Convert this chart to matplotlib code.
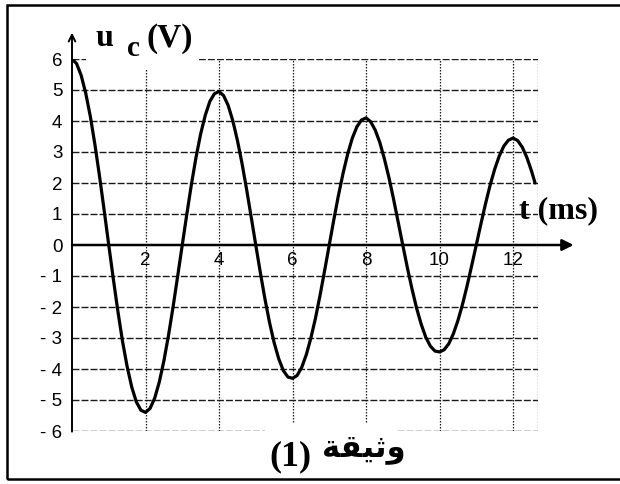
import matplotlib
matplotlib.use("Agg")
import matplotlib.pyplot as plt
from matplotlib.patches import Rectangle

# readings of u_c (V) against t (ms), every 0.125 ms
t_ms = [0.0, 0.125, 0.25, 0.375, 0.5, 0.625, 0.75, 0.875,
        1.0, 1.125, 1.25, 1.375, 1.5, 1.625, 1.75, 1.875,
        2.0, 2.125, 2.25, 2.375, 2.5, 2.625, 2.75, 2.875,
        3.0, 3.125, 3.25, 3.375, 3.5, 3.625, 3.75, 3.875,
        4.0, 4.125, 4.25, 4.375, 4.5, 4.625, 4.75, 4.875,
        5.0, 5.125, 5.25, 5.375, 5.5, 5.625, 5.75, 5.875,
        6.0, 6.125, 6.25, 6.375, 6.5, 6.625, 6.75, 6.875,
        7.0, 7.125, 7.25, 7.375, 7.5, 7.625, 7.75, 7.875,
        8.0, 8.125, 8.25, 8.375, 8.5, 8.625, 8.75, 8.875,
        9.0, 9.125, 9.25, 9.375, 9.5, 9.625, 9.75, 9.875,
        10.0, 10.125, 10.25, 10.375, 10.5, 10.625, 10.75, 10.875,
        11.0, 11.125, 11.25, 11.375, 11.5, 11.625, 11.75, 11.875,
        12.0, 12.125, 12.25, 12.375, 12.5, 12.6]
u_c = [6.00, 5.85, 5.47, 4.89, 4.14, 3.23, 2.21, 1.12,
       0.00, -1.10, -2.15, -3.11, -3.92, -4.58, -5.06, -5.33,
       -5.40, -5.27, -4.94, -4.42, -3.74, -2.92, -2.00, -1.01,
       0.00, 1.00, 1.96, 2.83, 3.58, 4.18, 4.63, 4.88,
       4.95, 4.82, 4.50, 4.01, 3.38, 2.64, 1.80, 0.91,
       0.00, -0.89, -1.74, -2.50, -3.15, -3.67, -4.05, -4.26,
       -4.30, -4.21, -3.95, -3.54, -3.00, -2.36, -1.62, -0.82,
       0.00, 0.82, 1.60, 2.31, 2.93, 3.44, 3.81, 4.03,
       4.10, 3.98, 3.71, 3.31, 2.78, 2.17, 1.48, 0.74,
       0.00, -0.73, -1.41, -2.03, -2.55, -2.97, -3.26, -3.42,
       -3.45, -3.38, -3.19, -2.87, -2.44, -1.92, -1.32, -0.67,
       0.00, 0.67, 1.32, 1.92, 2.44, 2.87, 3.19, 3.38,
       3.45, 3.37, 3.16, 2.83, 2.40, 2.00]

x_ticks = [2, 4, 6, 8, 10, 12]
y_ticks = [-6, -5, -4, -3, -2, -1, 0, 1, 2, 3, 4, 5, 6]
y_labels = ["- 6", "- 5", "- 4", "- 3", "- 2", "- 1", "0", "1", "2", "3", "4", "5", "6"]
grid_right = 12.68

W, H = 620, 484


def fx(px):
    return px / W


def fy(py):
    return 1 - py / H


fig = plt.figure(figsize=(6.2, 4.84), dpi=100)
ax = fig.add_axes([fx(72), fy(431), (538 - 72) / W, (431 - 59) / H])
ax.set_xlim(0, grid_right)
ax.set_ylim(-6, 6)
for s in ax.spines.values():
    s.set_visible(False)

# grid: dashed horizontals, dotted verticals
hl = [v for v in y_ticks if v != 0]
ax.hlines(hl, 0, grid_right, colors="#1a1a1a", linewidth=1.0,
          linestyles=(0, (5, 1.5)), zorder=1)
ax.vlines(x_ticks + [grid_right], -6, 6, colors="#1a1a1a", linewidth=0.9,
          linestyles=(0, (1.2, 1.2)), zorder=1)

ax.plot(t_ms, u_c, color="black", linewidth=2.3, zorder=3,
        solid_joinstyle="round", solid_capstyle="round")

# axes with arrows
ax.annotate("", xy=(0, 6.85), xytext=(0, -6.02),
            arrowprops=dict(arrowstyle="->", lw=1.4, color="black",
                            shrinkA=0, shrinkB=0, mutation_scale=12),
            annotation_clip=False, zorder=4)
ax.annotate("", xy=(13.65, 0), xytext=(0, 0),
            arrowprops=dict(arrowstyle="-|>", lw=1.8, color="black",
                            shrinkA=0, shrinkB=0, mutation_scale=17),
            annotation_clip=False, zorder=4)

ax.set_xticks(x_ticks)
ax.set_xticklabels([str(v) for v in x_ticks])
ax.set_yticks(y_ticks)
ax.set_yticklabels(y_labels)
ax.spines["bottom"].set_position(("data", 0))
ax.tick_params(axis="both", length=0, labelsize=13.5)
ax.tick_params(axis="x", pad=5)
ax.tick_params(axis="y", pad=7)
for lab in ax.get_xticklabels() + ax.get_yticklabels():
    lab.set_fontfamily("Liberation Sans")

# axis titles
serif = "Liberation Serif"
fig.patches.append(Rectangle((fx(86), fy(70)), (199 - 86) / W, (70 - 22) / H,
                             transform=fig.transFigure, facecolor="white",
                             edgecolor="none", zorder=2))
fig.text(fx(95), fy(46), "u", family=serif, weight="bold", fontsize=23,
         va="baseline", ha="left", zorder=5)
fig.text(fx(127), fy(56), "c", family=serif, weight="bold", fontsize=21,
         va="baseline", ha="left", zorder=5)
fig.text(fx(146), fy(47), "(V)", family=serif, weight="bold", fontsize=24,
         va="baseline", ha="left", zorder=5)
fig.text(fx(519), fy(218), "t (ms)", family=serif, weight="bold", fontsize=23,
         va="baseline", ha="left", zorder=5)

# caption "وثيقة (1)" - the Arabic word is written in presentation forms,
# visual order, since matplotlib does no shaping
fig.patches.append(Rectangle((fx(265), fy(476)), (397 - 265) / W, (476 - 424) / H,
                             transform=fig.transFigure, facecolor="white",
                             edgecolor="none", zorder=2))
fig.text(fx(269), fy(465), "(1)", family=serif, weight="bold", fontsize=26,
         va="baseline", ha="left", zorder=5)
fig.text(fx(322), fy(456), "\uFE94\uFED8\uFEF4\uFE9B\uFEED",
         family=["DejaVu Sans"], weight="bold", fontsize=22,
         va="baseline", ha="left", zorder=5)

# outer frame, open on the right
fig.patches.append(Rectangle((fx(7), fy(479)), (640 - 7) / W, (479 - 5) / H,
                             transform=fig.transFigure, facecolor="none",
                             edgecolor="black", linewidth=1.8, zorder=6))

fig.savefig("out.png", dpi=100)
